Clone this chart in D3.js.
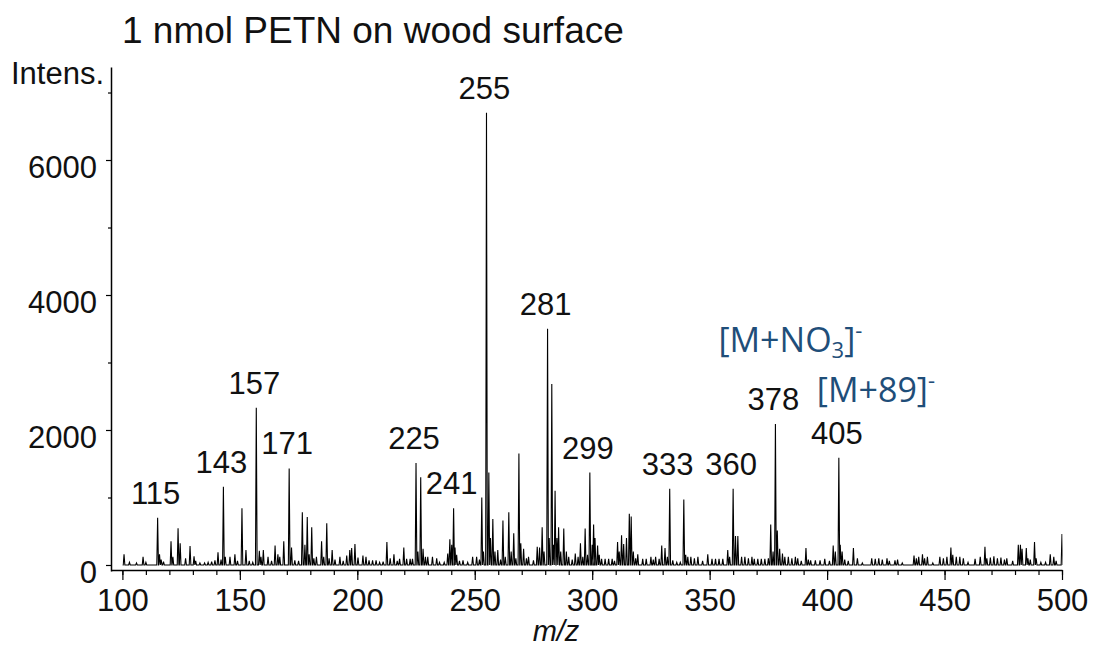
<!DOCTYPE html>
<html>
<head>
<meta charset="utf-8">
<script src="https://cdn.jsdelivr.net/npm/d3@7"></script>
<style>
  html, body { margin: 0; padding: 0; background: #fff; }
  svg { display: block; }
  text { font-family: "Liberation Sans", Arial, sans-serif; fill: #111; }
</style>
</head>
<body>
<script>
// labelled peaks [m/z, intensity]
const majorPeaks = [
  [115, 700], [143, 1160], [157, 2330], [171, 1430], [225, 1510], [241, 840],
  [255, 6700], [281, 3500], [299, 1370], [333, 1130], [360, 1130], [378, 2090], [405, 1590]
];

// every other peak [m/z, intensity]
const otherPeaks = [
  [100.7, 160], [103, 40], [106, 30], [108.8, 120], [110, 40], [115.8, 160], [116.5, 80], [117.5, 50],
  [120.7, 350], [121.5, 120], [123.7, 545], [124.6, 320], [126.9, 100], [128.8, 280], [130.5, 130],
  [131.2, 60], [133, 30], [135, 30], [136.5, 40], [138, 50], [139.4, 70], [140.7, 190], [142, 80],
  [143.8, 120], [145.8, 120], [147.9, 160], [149, 60], [150.9, 840], [152.6, 220], [154, 60],
  [155.5, 40], [158.3, 210], [159, 120], [160, 220], [162, 120], [163.5, 60], [165, 290], [166.2, 160],
  [167, 120], [168.7, 350], [172, 260], [173.4, 70], [175, 60], [176.6, 780], [177.7, 300],
  [178.7, 710], [179.5, 160], [180.6, 560], [181.5, 100], [182.6, 120], [184.8, 350], [185.7, 120],
  [187, 620], [188, 100], [189.3, 220], [190.5, 80], [192.6, 120], [194, 60], [195.5, 140],
  [196.8, 220], [197.6, 250], [199, 310], [200.3, 110], [202.4, 140], [203.7, 120], [205, 70],
  [206.5, 70], [208, 70], [209.5, 40], [211, 50], [212.6, 340], [214, 100], [215.6, 160], [217, 60],
  [218, 90], [219.8, 260], [221, 90], [222.5, 90], [223.5, 90], [225.8, 200], [227, 1300], [228, 240],
  [229, 120], [230, 120], [232, 120], [233.8, 100], [235, 40], [237, 40], [238.5, 170], [239.4, 380],
  [240.2, 300], [241.6, 260], [242.3, 150], [243.5, 60], [245, 70], [247, 40], [249.1, 120],
  [250.8, 120], [252, 80], [253, 1000], [253.7, 200], [256, 1370], [256.7, 400], [257.7, 680],
  [258.6, 200], [259.8, 220], [261, 80], [262, 660], [263, 120], [264.5, 780], [265.5, 200],
  [266.6, 470], [267.5, 100], [268.8, 1650], [269.6, 320], [270.8, 240], [272, 100], [272.9, 120],
  [275, 70], [276.6, 270], [277.6, 260], [278.7, 560], [279.5, 200], [281.7, 400], [282.8, 2680],
  [283.5, 300], [284.2, 1100], [285, 400], [285.7, 560], [286.6, 200], [287.9, 540], [289, 200],
  [290, 120], [291.5, 80], [292.8, 170], [294, 120], [295, 320], [296, 120], [297, 540], [298, 150],
  [300, 300], [300.6, 600], [301.2, 400], [302.3, 290], [303, 150], [304, 90], [305.5, 90], [307, 90],
  [308.5, 90], [309.5, 60], [310.8, 340], [311.5, 200], [312.5, 440], [313.4, 310], [314.6, 400],
  [315.8, 760], [316.6, 720], [317.5, 200], [318.5, 100], [319.4, 160], [321.5, 90], [323, 90],
  [325, 120], [326, 80], [327, 120], [328.5, 90], [329.6, 290], [331, 250], [332, 120], [334.3, 70],
  [336, 40], [337.5, 40], [339, 970], [339.8, 150], [340.7, 120], [342, 120], [343.5, 100], [345, 120],
  [347, 60], [349.2, 160], [351, 90], [352.5, 90], [354, 90], [355.6, 90], [357.7, 220], [358.5, 120],
  [361, 430], [362, 430], [363.6, 120], [365, 120], [366.5, 100], [368, 120], [369, 90], [370.5, 90],
  [372, 90], [373.5, 90], [375, 100], [376, 600], [377, 200], [378.8, 510], [379.8, 240], [381, 170],
  [382, 120], [383.5, 120], [385, 100], [386.5, 120], [387.5, 100], [389, 60], [391, 250], [392, 80],
  [393, 70], [395, 70], [397, 70], [399, 90], [401, 60], [402.6, 290], [403.5, 200], [405.6, 300],
  [406.4, 200], [407.5, 80], [409, 60], [411.2, 250], [412.9, 100], [415, 30], [419, 100], [420.5, 90],
  [422, 100], [423.5, 80], [425.5, 100], [426.5, 60], [428.9, 70], [430, 80], [432, 30], [437, 140],
  [438, 100], [439, 120], [440.6, 160], [441.5, 100], [442.7, 120], [445, 30], [448, 120], [449.5, 100],
  [451, 120], [452.7, 260], [453.5, 150], [455, 120], [456.5, 120], [458, 100], [460, 40], [463, 90],
  [465.2, 120], [467.2, 270], [468, 100], [469.5, 110], [471, 130], [472.5, 100], [474, 110],
  [475.5, 80], [476.5, 100], [479, 60], [481.4, 300], [482.3, 300], [483, 240], [484.8, 250],
  [485.5, 100], [486.5, 80], [488.3, 340], [489, 100], [491, 40], [493, 40], [495, 160], [496.5, 120],
  [497.5, 60], [500, 460]
];

const xTicks = [100, 150, 200, 250, 300, 350, 400, 450, 500];
const xMinorTicks = d3.range(100, 501, 10);
const yTicks = [0, 2000, 4000, 6000];
const yMinorTicks = [1000, 3000, 5000, 7000];

const w = 1096;
const h = 648;
const blue = '#1f4e79';

const svg = d3.select('body').append('svg')
  .attr('width', w)
  .attr('height', h);

// scales (domain runs a little past 100 and below 0 so the axes meet in the corner)
const x = d3.scaleLinear().domain([95.15, 500]).range([111, 1062]);
const y = d3.scaleLinear().domain([-89, 7378]).range([571, 67]);

// title and axis names
svg.append('text')
  .attr('x', 122).attr('y', 43)
  .style('font-size', '37px')
  .text('1 nmol PETN on wood surface');

svg.append('text')
  .attr('x', 11).attr('y', 84)
  .style('font-size', '31px')
  .text('Intens.');

svg.append('text')
  .attr('x', 556).attr('y', 641)
  .attr('text-anchor', 'middle')
  .style('font-size', '29px')
  .style('font-style', 'italic')
  .text('m/z');

// the spectrum trace
const peaks = majorPeaks.concat(otherPeaks).sort((a, b) => a[0] - b[0]);
const hw = 0.35;
let pts = [[100, 0]];
peaks.forEach((p) => {
  pts.push([p[0] - hw, 0], [p[0], p[1]], [p[0] + hw, 0]);
});

svg.append('clipPath').attr('id', 'clip')
  .append('rect')
  .attr('x', x(100)).attr('y', 0)
  .attr('width', x(500) - x(100) + 0.5).attr('height', h);

svg.append('path')
  .datum(pts)
  .attr('clip-path', 'url(#clip)')
  .attr('fill', 'none')
  .attr('stroke', '#000')
  .attr('stroke-width', 1.1)
  .attr('d', d3.line().x((d) => x(d[0])).y((d) => y(d[1])));

// axes
const yAxis = svg.append('g')
  .attr('transform', 'translate(111,0)')
  .call(d3.axisLeft(y).tickValues(yTicks).tickFormat(d3.format('d'))
    .tickSize(5).tickSizeOuter(0).tickPadding(9));
yAxis.selectAll('text').attr('dy', '0.57em').style('font-size', '31px')
  .style('font-family', '"Liberation Sans", Arial, sans-serif').attr('fill', '#111');

svg.append('g')
  .attr('transform', 'translate(111,0)')
  .call(d3.axisLeft(y).tickValues(yMinorTicks).tickSize(3).tickFormat(''))
  .select('.domain').remove();

svg.append('g')
  .attr('transform', 'translate(0,570)')
  .call(d3.axisBottom(x).tickValues(xMinorTicks).tickSize(5).tickFormat(''))
  .select('.domain').remove();

const xAxis = svg.append('g')
  .attr('transform', 'translate(0,570)')
  .call(d3.axisBottom(x).tickValues(xTicks).tickSize(10).tickSizeOuter(0).tickPadding(9));
xAxis.selectAll('text').style('font-size', '31px')
  .style('font-family', '"Liberation Sans", Arial, sans-serif').attr('fill', '#111');

svg.selectAll('.domain').attr('stroke-width', 1.5);
svg.selectAll('.tick line').attr('stroke-width', 1.2);

// peak labels
svg.selectAll('.peak-label')
  .data(majorPeaks)
  .enter()
  .append('text')
  .attr('class', 'peak-label')
  .attr('x', (d) => x(d[0]) - 2)
  .attr('y', (d) => y(d[1]) - 14)
  .attr('text-anchor', 'middle')
  .style('font-size', '31px')
  .text((d) => d[0]);

// ion annotations
const nitrate = svg.append('text')
  .attr('x', x(378) - 57).attr('y', y(2090) - 72)
  .style('font-family', '"Open Sans", "Noto Sans", sans-serif')
  .style('font-size', '34px')
  .style('fill', blue);
nitrate.append('tspan').text('[M+NO');
nitrate.append('tspan').attr('dy', 6).style('font-size', '22px').text('3');
nitrate.append('tspan').attr('dy', -6).text(']');
nitrate.append('tspan').attr('dy', -14).style('font-size', '22px').text('-');

const adduct = svg.append('text')
  .attr('x', x(405) - 22).attr('y', y(1590) - 56)
  .style('font-family', '"Open Sans", "Noto Sans", sans-serif')
  .style('font-size', '34px')
  .style('fill', blue);
adduct.append('tspan').text('[M+89]');
adduct.append('tspan').attr('dy', -14).style('font-size', '22px').text('-');
</script>
</body>
</html>
